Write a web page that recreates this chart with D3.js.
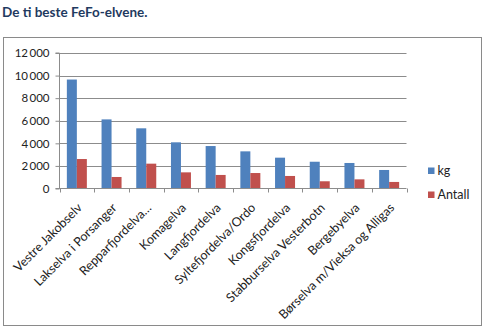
<!DOCTYPE html>
<html>
<head>
<meta charset="utf-8">
<script src="https://cdn.jsdelivr.net/npm/d3@7"></script>
<style>
  html, body { margin: 0; padding: 0; background: #fff; }
  svg { display: block; }
  text { font-family: Lato, "Open Sans", sans-serif; }
</style>
</head>
<body>
<svg id="chart" width="488" height="329"></svg>
<script>
// Ten best FeFo rivers: catch in kg and number of fish
const rivers = [
  "Vestre Jakobselv",
  "Lakselva i Porsanger",
  "Repparfjordelva…",
  "Komagelva",
  "Langfjordelva",
  "Syltefjordelva/Ordo",
  "Kongsfjordelva",
  "Stabburselva Vesterbotn",
  "Bergebyelva",
  "Børselva m/Vieksa og Alligas"
];
const kg     = [9650, 6120, 5330, 4090, 3760, 3290, 2730, 2370, 2260, 1640];
const antall = [2610, 1020, 2200, 1430, 1200, 1370, 1110, 640, 810, 580];
const yTicks = [0, 2000, 4000, 6000, 8000, 10000, 12000];
const seriesNames = ["kg", "Antall"];
const seriesColors = ["#4F81BD", "#C0504D"];

const svg = d3.select("#chart");

// Title
svg.append("text")
  .attr("x", 2).attr("y", 17)
  .attr("font-size", 13.5).attr("font-weight", "bold")
  .attr("fill", "#1F3A60")
  .text("De ti beste FeFo-elvene.");

// Chart frame
svg.append("rect")
  .attr("x", 3.5).attr("y", 37.5)
  .attr("width", 478).attr("height", 288)
  .attr("fill", "#fff").attr("stroke", "#8a8a8a");

const plot = { left: 59.5, right: 406.5, top: 53, bottom: 188.5 };

const x0 = d3.scaleBand().domain(rivers).range([plot.left, plot.right]);
const x1 = d3.scaleBand().domain(seriesNames).range([0, 20]);
const y = d3.scaleLinear().domain([0, 12000]).range([plot.bottom, plot.top]);

// Gridlines
svg.append("g").selectAll("line").data(yTicks.filter(d => d > 0)).join("line")
  .attr("x1", plot.left).attr("x2", plot.right)
  .attr("y1", d => Math.round(y(d)) + 0.5).attr("y2", d => Math.round(y(d)) + 0.5)
  .attr("stroke", "#8c8c8c").attr("stroke-width", 1);

// Bars
const rows = rivers.map((r, i) => ({ r, vals: [kg[i], antall[i]] }));
const grp = svg.append("g").selectAll("g").data(rows).join("g")
  .attr("transform", d => `translate(${x0(d.r) + x0.bandwidth() / 2 - 10},0)`);
grp.selectAll("rect").data(d => d.vals.map((v, j) => ({ v, s: seriesNames[j], j }))).join("rect")
  .attr("x", d => x1(d.s))
  .attr("width", x1.bandwidth())
  .attr("y", d => y(d.v))
  .attr("height", d => plot.bottom - y(d.v))
  .attr("fill", d => seriesColors[d.j]);

// Y axis
const yAxis = svg.append("g")
  .attr("transform", `translate(${plot.left},0)`)
  .call(d3.axisLeft(y).tickValues(yTicks).tickSize(4).tickPadding(6)
    .tickFormat(d => d3.format(",")(d).replace(",", "\u2009")));
yAxis.select(".domain").attr("stroke", "#8c8c8c").attr("d", `M-4,${y(12000)}H0V${plot.bottom}`);
yAxis.selectAll(".tick line").attr("stroke", "#8c8c8c");
yAxis.selectAll(".tick text").attr("font-size", 11.5).attr("fill", "#222")
  .attr("font-family", "Lato, sans-serif");

// X axis with boundary ticks
const xAxisG = svg.append("g");
xAxisG.append("line")
  .attr("x1", plot.left - 4).attr("x2", plot.right)
  .attr("y1", plot.bottom).attr("y2", plot.bottom)
  .attr("stroke", "#8c8c8c");
const bounds = rivers.map(r => x0(r)).concat([plot.right]);
xAxisG.selectAll("line.tk").data(bounds).join("line").attr("class", "tk")
  .attr("x1", d => Math.round(d) + 0.5).attr("x2", d => Math.round(d) + 0.5)
  .attr("y1", plot.bottom).attr("y2", plot.bottom + 4)
  .attr("stroke", "#8c8c8c");

// Category labels, rotated
xAxisG.selectAll("text").data(rivers).join("text")
  .attr("text-anchor", "end")
  .attr("font-size", 12.5).attr("fill", "#222")
  .attr("transform", d => `translate(${x0(d) + x0.bandwidth() / 2 + 6},${plot.bottom + 20}) rotate(-45)`)
  .text(d => d);

// Legend
const leg = svg.append("g").selectAll("g").data(seriesNames).join("g")
  .attr("transform", (d, i) => `translate(428,${167.5 + i * 24})`);
leg.append("rect").attr("width", 6.5).attr("height", 6.5)
  .attr("fill", (d, i) => seriesColors[i]);
leg.append("text").attr("x", 9.5).attr("y", 7).attr("font-size", 12.5).attr("fill", "#222")
  .text(d => d);
</script>
</body>
</html>
